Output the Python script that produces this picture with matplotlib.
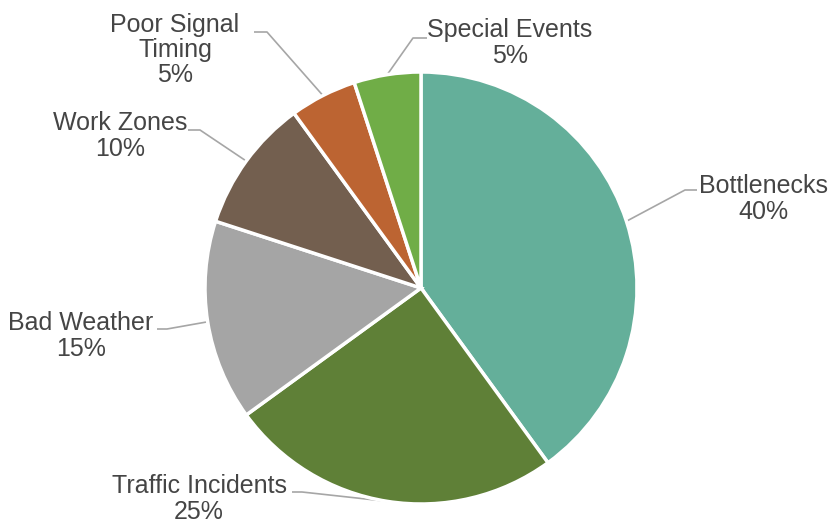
import numpy as np
import matplotlib.pyplot as plt

plt.rcParams['font.family'] = ['Liberation Sans', 'DejaVu Sans']

# Data
labels = ['Bottlenecks', 'Traffic Incidents', 'Bad Weather', 'Work Zones',
          'Poor Signal\nTiming', 'Special Events']
values = [40, 25, 15, 10, 5, 5]
colors = ['#64AF9A', '#5F8037', '#A5A5A5', '#735F4F', '#BC6432', '#70AD47']

W, H = 830, 523
cx, cy, r = 421, H - 288, 216

fig = plt.figure(figsize=(W / 100, H / 100), dpi=100)
ax = fig.add_axes([0, 0, 1, 1])

wedges, _ = ax.pie(values, colors=colors, startangle=90, counterclock=False,
                   center=(cx, cy), radius=r,
                   wedgeprops=dict(edgecolor='white', linewidth=2.5))

# pie() resets the limits, so set them afterwards
ax.set_xlim(0, W)
ax.set_ylim(0, H)
ax.set_aspect('equal')
ax.axis('off')

# label layout in pixels from top-left:
# text centre x, text block centre y, elbow y, elbow start x, elbow end x
layout = [
    (763, 199, 190, 697, 685),
    (199, 499, 492, 292, 302),
    (81, 336, 329, 157, 167),
    (120, 136, 130, 188, 200),
    (175, 50, 32, 254, 267),
    (510, 43, 38, 427, 413),
]

total = sum(values)
for w, lab, val, (tx, ty, ey, ex0, ex1) in zip(wedges, labels, values, layout):
    mid = np.deg2rad((w.theta1 + w.theta2) / 2)
    px, py = cx + r * np.cos(mid), cy + r * np.sin(mid)
    ax.plot([ex0, ex1, px], [H - ey, H - ey, py], color='#A6A6A6', lw=1.2,
            solid_capstyle='butt', zorder=0)
    ax.text(tx, H - ty, f'{lab}\n{val / total * 100:.0f}%', ha='center',
            va='center', fontsize=18, color='#454545', linespacing=1.07)

fig.savefig('out.png', dpi=100)
